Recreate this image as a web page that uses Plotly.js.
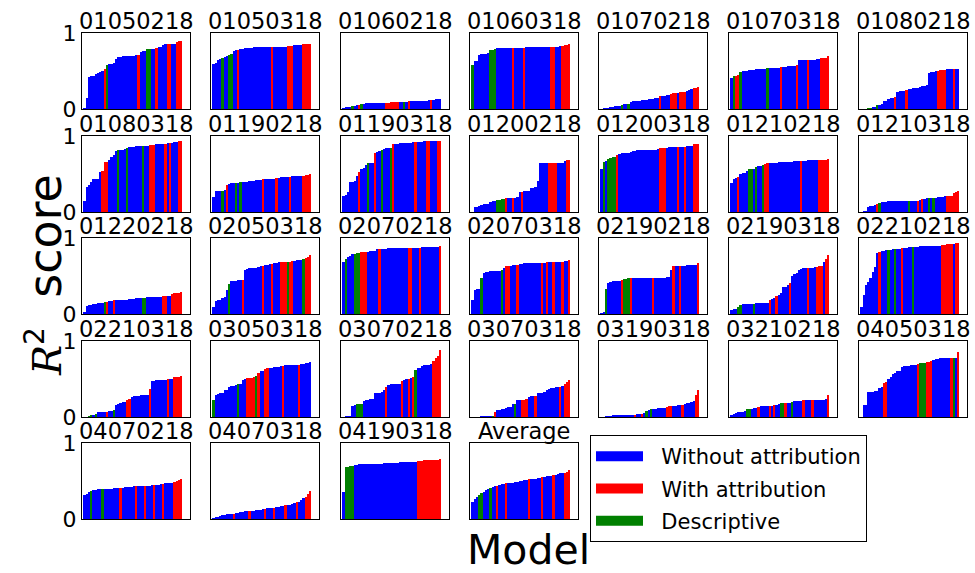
<!DOCTYPE html>
<html>
<head>
<meta charset="utf-8">
<script src="https://cdn.plot.ly/plotly-3.0.1.min.js"></script>
<style>html,body{margin:0;padding:0;background:#fff}#chart{width:975px;height:573px}</style>
</head>
<body>
<div id="chart"></div>
<script>
// ---------------- DATA ----------------
const panelNames = ["01050218","01050318","01060218","01060318","01070218","01070318","01080218",
  "01080318","01190218","01190318","01200218","01200318","01210218","01210318",
  "01220218","02050318","02070218","02070318","02190218","02190318","02210218",
  "02210318","03050318","03070218","03070318","03190318","03210218","04050318",
  "04070218","04070318","04190318","Average"];

const seriesNames = {B: "Without attribution", R: "With attribution", G: "Descriptive"};
const yTickLabels = ["0", "1"];

// R^2 per model (sorted) and category code per bar: B = without attribution, R = with attribution, G = descriptive
const v01050218 = [0.01,0.15,0.42,0.43,0.44,0.46,0.47,0.49,0.50,0.52,0.58,0.59,0.59,0.60,0.66,0.68,0.69,0.70,0.70,0.70,0.70,0.70,0.70,0.71,0.71,0.75,0.76,0.76,0.79,0.79,0.79,0.79,0.80,0.81,0.82,0.84,0.86,0.86,0.86,0.86,0.86,0.88,0.89,0.90];
const c01050218 = "BBBBBBBBB"+"R"+"G"+"BBBBBBBBBBBBB"+"R"+"BBB"+"GG"+"BB"+"R"+"BBBB"+"RR"+"BB"+"RRR";
const v01050318 = [0.59,0.61,0.65,0.66,0.67,0.68,0.70,0.71,0.72,0.76,0.77,0.78,0.79,0.79,0.80,0.80,0.80,0.80,0.81,0.81,0.81,0.81,0.81,0.81,0.82,0.82,0.82,0.82,0.82,0.82,0.82,0.82,0.82,0.83,0.83,0.83,0.84,0.84,0.84,0.84,0.85,0.85,0.86,0.86];
const c01050318 = "BBBB"+"G"+"BB"+"GG"+"BB"+"R"+"BBBB"+"BBBBBBBBBB"+"R"+"BBBBBB"+"RRR"+"BBBB"+"RRRR";
const v01060218 = [0.01,0.02,0.02,0.03,0.04,0.04,0.05,0.05,0.06,0.07,0.075,0.075,0.075,0.075,0.08,0.08,0.08,0.08,0.08,0.085,0.085,0.09,0.09,0.09,0.09,0.09,0.09,0.095,0.095,0.10,0.10,0.10,0.105,0.105,0.11,0.11,0.11,0.11,0.115,0.12,0.125,0.13,0.13,0.13];
const c01060218 = "BBBBGBBRG"+"BBBBBBBBBB"+"RRRRRR"+"BB"+"G"+"B"+"R"+"BBBBBBBBB"+"R"+"BBBB";
const v01060318 = [0.58,0.63,0.63,0.71,0.72,0.73,0.73,0.74,0.77,0.78,0.79,0.80,0.80,0.80,0.80,0.80,0.80,0.80,0.80,0.80,0.80,0.80,0.80,0.805,0.81,0.81,0.81,0.81,0.81,0.81,0.81,0.81,0.81,0.81,0.81,0.82,0.82,0.82,0.82,0.83,0.83,0.84,0.84,0.85];
const c01060318 = "GBBBBBBBGGG"+"BBBBBBB"+"R"+"BBBB"+"R"+"BBBBBBBBBBB"+"RR"+"BBB"+"RRRR";
const v01070218 = [0.005,0.01,0.01,0.01,0.03,0.03,0.04,0.04,0.04,0.05,0.06,0.06,0.07,0.09,0.10,0.10,0.11,0.11,0.12,0.12,0.12,0.13,0.13,0.13,0.14,0.14,0.17,0.17,0.17,0.18,0.18,0.20,0.21,0.21,0.21,0.22,0.23,0.23,0.24,0.25,0.26,0.27,0.28,0.29];
const c01070218 = "BBBBBBBBBGBBG"+"BBBBBBBBBBBBB"+"R"+"BBBB"+"RRR"+"B"+"RRR"+"BBB"+"RRR";
const v01070318 = [0.41,0.44,0.44,0.45,0.49,0.50,0.50,0.50,0.51,0.51,0.51,0.52,0.52,0.52,0.52,0.53,0.54,0.54,0.54,0.54,0.54,0.54,0.55,0.55,0.55,0.56,0.56,0.57,0.57,0.58,0.64,0.65,0.65,0.65,0.65,0.65,0.65,0.65,0.66,0.66,0.67,0.67,0.67,0.70];
const c01070318 = "BGRRGB"+"BBBBBBBBBB"+"G"+"BBBBB"+"RB"+"BBBBB"+"RB"+"BBB"+"RB"+"BBBB"+"RRRR";
const v01080218 = [0.0,0.005,0.005,0.01,0.01,0.02,0.03,0.05,0.05,0.07,0.10,0.11,0.13,0.14,0.15,0.16,0.23,0.24,0.24,0.24,0.25,0.26,0.26,0.27,0.28,0.28,0.29,0.30,0.30,0.31,0.48,0.49,0.49,0.50,0.50,0.51,0.51,0.51,0.52,0.52,0.52,0.52,0.52,0.53];
const c01080218 = "BBBGGBBGBBBBBBBR"+"BBBB"+"R"+"BBBBBBBBB"+"BBBB"+"RRRR"+"BBB"+"R"+"BB";
const v01080318 = [0.15,0.33,0.35,0.40,0.43,0.44,0.44,0.53,0.54,0.66,0.66,0.68,0.72,0.75,0.80,0.81,0.82,0.82,0.83,0.84,0.85,0.86,0.86,0.87,0.87,0.87,0.87,0.87,0.87,0.88,0.88,0.88,0.89,0.89,0.90,0.90,0.90,0.91,0.91,0.91,0.92,0.92,0.93,0.94];
const c01080318 = "BBBBBBBB"+"RRR"+"BBBB"+"G"+"BBB"+"GB"+"BBBBB"+"G"+"BB"+"RRR"+"BBBB"+"R"+"B"+"R"+"BBB"+"RR";
const v01190218 = [0.20,0.27,0.28,0.28,0.28,0.29,0.35,0.37,0.38,0.38,0.38,0.38,0.39,0.39,0.40,0.40,0.41,0.41,0.41,0.42,0.42,0.42,0.43,0.43,0.44,0.44,0.44,0.44,0.45,0.45,0.46,0.46,0.46,0.46,0.46,0.47,0.47,0.47,0.47,0.48,0.48,0.49,0.49,0.50];
const c01190218 = "B"+"BBB"+"G"+"B"+"R"+"BB"+"BG"+"B"+"GB"+"BBBBBBBB"+"RB"+"BBBB"+"R"+"BBBBB"+"RB"+"BBBB"+"RRRR";
const v01190318 = [0.21,0.23,0.26,0.40,0.40,0.41,0.48,0.52,0.57,0.58,0.62,0.64,0.64,0.65,0.77,0.79,0.80,0.81,0.83,0.84,0.84,0.84,0.90,0.90,0.90,0.91,0.91,0.91,0.91,0.91,0.91,0.92,0.92,0.92,0.92,0.92,0.93,0.93,0.93,0.93,0.93,0.94,0.94,0.94];
const c01190318 = "BBBBBB"+"B"+"R"+"BBB"+"G"+"BB"+"R"+"BB"+"G"+"BBB"+"G"+"R"+"BBBBBBBBB"+"R"+"BBBB"+"RR"+"BBB"+"RR";
const v01200218 = [0.0,0.06,0.07,0.08,0.09,0.10,0.11,0.11,0.13,0.14,0.14,0.16,0.16,0.17,0.17,0.18,0.18,0.18,0.18,0.19,0.20,0.26,0.26,0.27,0.28,0.28,0.31,0.32,0.33,0.41,0.65,0.65,0.65,0.65,0.65,0.65,0.65,0.65,0.65,0.65,0.65,0.67,0.68,0.68];
const c01200218 = "BBBBBBBBBBB"+"GGGG"+"R"+"BB"+"R"+"BB"+"B"+"R"+"BBB"+"B"+"BB"+"B"+"BBBB"+"RRRR"+"BBB"+"B"+"RR";
const v01200318 = [0.57,0.66,0.67,0.70,0.71,0.72,0.73,0.75,0.76,0.77,0.77,0.78,0.78,0.79,0.80,0.80,0.81,0.81,0.81,0.81,0.82,0.82,0.82,0.82,0.82,0.83,0.84,0.84,0.84,0.84,0.85,0.85,0.85,0.85,0.85,0.86,0.86,0.86,0.87,0.87,0.87,0.89,0.90,0.90];
const c01200318 = "B"+"GB"+"GGGG"+"R"+"BBBBB"+"BBBBBBBBB"+"BBBB"+"RRR"+"BBBBB"+"RB"+"B"+"R"+"BBB"+"RRR";
const v01210218 = [0.38,0.44,0.45,0.46,0.50,0.51,0.51,0.54,0.56,0.57,0.57,0.59,0.60,0.60,0.62,0.63,0.64,0.65,0.65,0.65,0.65,0.66,0.66,0.66,0.66,0.66,0.66,0.66,0.67,0.67,0.67,0.67,0.67,0.67,0.68,0.68,0.68,0.68,0.68,0.69,0.69,0.69,0.69,0.70];
const c01210218 = "BBB"+"R"+"BBBB"+"GG"+"B"+"G"+"BB"+"G"+"RR"+"BBBBBBBBBBBBBB"+"R"+"BBBBBBB"+"RRRRR";
const v01210318 = [0.005,0.01,0.01,0.07,0.08,0.08,0.09,0.11,0.12,0.13,0.13,0.13,0.14,0.14,0.14,0.14,0.14,0.14,0.15,0.15,0.15,0.15,0.15,0.15,0.15,0.15,0.16,0.17,0.17,0.18,0.18,0.19,0.19,0.19,0.20,0.20,0.20,0.21,0.21,0.21,0.21,0.25,0.26,0.27];
const c01210318 = "BBB"+"BBBB"+"R"+"GB"+"BBBBBBBBBBB"+"G"+"BBB"+"R"+"B"+"R"+"BB"+"G"+"B"+"G"+"BBBBB"+"RRR"+"R"+"RR";
const v01220218 = [0.02,0.11,0.12,0.12,0.13,0.13,0.14,0.14,0.15,0.16,0.16,0.17,0.17,0.18,0.18,0.18,0.19,0.19,0.19,0.19,0.20,0.20,0.20,0.21,0.21,0.21,0.21,0.21,0.22,0.22,0.22,0.23,0.23,0.23,0.23,0.24,0.24,0.24,0.24,0.26,0.27,0.28,0.28,0.29];
const c01220218 = "BBBBBBBBB"+"G"+"R"+"BB"+"R"+"BBBBBBBBBBBB"+"GG"+"BBBBBBB"+"RR"+"BB"+"RRRRR";
const v02050318 = [0.09,0.17,0.18,0.19,0.21,0.22,0.32,0.40,0.44,0.44,0.44,0.45,0.45,0.45,0.58,0.59,0.60,0.60,0.61,0.61,0.62,0.63,0.63,0.64,0.65,0.66,0.66,0.67,0.67,0.68,0.68,0.69,0.69,0.69,0.69,0.70,0.70,0.71,0.71,0.71,0.72,0.74,0.75,0.78];
const c02050318 = "B"+"BBB"+"BB"+"B"+"G"+"BBBB"+"BR"+"BBBBBB"+"BB"+"RB"+"BB"+"R"+"BBB"+"RRR"+"G"+"RR"+"BBBB"+"G"+"R"+"R"+"R";
const v02070218 = [0.68,0.72,0.75,0.76,0.79,0.79,0.80,0.80,0.81,0.81,0.81,0.82,0.83,0.83,0.83,0.86,0.86,0.86,0.86,0.86,0.87,0.87,0.87,0.87,0.87,0.87,0.87,0.87,0.87,0.87,0.87,0.87,0.87,0.87,0.87,0.88,0.88,0.88,0.88,0.88,0.88,0.88,0.88,0.89];
const c02070218 = "BGBBBGGGRRRBBBBBR"+"BBBBBBBBBBBB"+"RR"+"BBB"+"R"+"BBBBBBBB"+"R";
const v02070318 = [0.19,0.32,0.33,0.33,0.48,0.54,0.55,0.55,0.56,0.56,0.56,0.57,0.57,0.58,0.61,0.63,0.63,0.63,0.64,0.64,0.64,0.66,0.66,0.67,0.67,0.67,0.67,0.67,0.67,0.67,0.67,0.67,0.67,0.68,0.68,0.68,0.68,0.68,0.68,0.69,0.69,0.70,0.70,0.71];
const c02070318 = "BBBB"+"GB"+"BBBBBBB"+"G"+"B"+"RR"+"BB"+"BR"+"BBBBBBBBBB"+"R"+"B"+"R"+"BB"+"R"+"BBB"+"RB"+"B"+"R";
const v02190218 = [0.01,0.02,0.33,0.41,0.42,0.43,0.44,0.44,0.44,0.45,0.46,0.46,0.47,0.47,0.47,0.47,0.47,0.47,0.47,0.47,0.47,0.47,0.47,0.47,0.47,0.48,0.48,0.48,0.48,0.49,0.49,0.58,0.63,0.63,0.63,0.63,0.63,0.63,0.64,0.64,0.64,0.64,0.64,0.67];
const c02190218 = "BBG"+"BB"+"BBB"+"BR"+"GGG"+"R"+"BBBBBBBBB"+"R"+"BBBBB"+"BB"+"B"+"R"+"BB"+"R"+"BBBBBBB"+"R";
const v02190318 = [0.05,0.06,0.06,0.09,0.12,0.13,0.13,0.13,0.13,0.13,0.13,0.14,0.14,0.14,0.14,0.14,0.14,0.18,0.20,0.21,0.24,0.25,0.28,0.35,0.36,0.38,0.41,0.50,0.52,0.54,0.58,0.59,0.61,0.61,0.61,0.61,0.61,0.62,0.62,0.63,0.63,0.69,0.73,0.77];
const c02190318 = "BBBGG"+"BBBBB"+"G"+"BBBBBB"+"R"+"BB"+"RB"+"B"+"BB"+"B"+"R"+"B"+"B"+"B"+"BB"+"BB"+"R"+"BBB"+"RRR"+"B"+"R"+"R";
const v02210218 = [0.09,0.25,0.38,0.42,0.48,0.55,0.62,0.80,0.82,0.83,0.83,0.84,0.84,0.84,0.85,0.85,0.85,0.86,0.87,0.87,0.87,0.88,0.88,0.88,0.88,0.88,0.89,0.89,0.89,0.89,0.89,0.90,0.90,0.90,0.90,0.90,0.91,0.91,0.92,0.92,0.92,0.92,0.93,0.94];
const c02210218 = "BBBBBBBB"+"R"+"BBB"+"G"+"BB"+"G"+"B"+"B"+"R"+"BBBB"+"G"+"BBBBBBBBBBBB"+"RRRRR"+"B"+"RR";
const v02210318 = [0.0,0.005,0.01,0.02,0.03,0.04,0.06,0.06,0.07,0.07,0.07,0.08,0.08,0.09,0.16,0.17,0.19,0.20,0.20,0.23,0.24,0.26,0.27,0.28,0.28,0.29,0.29,0.29,0.29,0.37,0.48,0.48,0.49,0.49,0.49,0.49,0.49,0.50,0.50,0.50,0.52,0.53,0.53,0.54];
const c02210318 = "BB"+"GG"+"B"+"G"+"BBBB"+"R"+"BB"+"G"+"BB"+"BBB"+"RR"+"BB"+"BBBBBB"+"R"+"BBBBBBB"+"R"+"BB"+"RRRR";
const v03050318 = [0.23,0.29,0.30,0.31,0.32,0.35,0.35,0.40,0.41,0.41,0.42,0.43,0.44,0.49,0.50,0.51,0.51,0.51,0.52,0.54,0.58,0.60,0.61,0.63,0.64,0.65,0.65,0.66,0.66,0.66,0.67,0.67,0.68,0.68,0.68,0.69,0.69,0.69,0.69,0.70,0.70,0.71,0.71,0.72];
const c03050318 = "G"+"BBBBBB"+"BBBB"+"G"+"B"+"BB"+"RRRR"+"G"+"R"+"B"+"B"+"R"+"R"+"BBBBBB"+"R"+"BBBBBB"+"R"+"BBBBB";
const v03070218 = [0.005,0.01,0.01,0.01,0.15,0.16,0.17,0.17,0.17,0.21,0.22,0.22,0.24,0.24,0.31,0.32,0.32,0.33,0.36,0.40,0.42,0.43,0.43,0.43,0.43,0.43,0.47,0.49,0.50,0.50,0.51,0.52,0.62,0.64,0.65,0.67,0.68,0.69,0.69,0.70,0.74,0.77,0.80,0.88];
const c03070218 = "BBBBBB"+"GGG"+"BBB"+"BB"+"BBBB"+"B"+"R"+"BBBBBB"+"R"+"B"+"B"+"R"+"B"+"R"+"G"+"BB"+"BB"+"BBB"+"RRRR";
const v03070318 = [0.0,0.0,0.005,0.005,0.01,0.01,0.01,0.01,0.01,0.01,0.07,0.09,0.09,0.10,0.11,0.12,0.13,0.13,0.17,0.17,0.22,0.23,0.23,0.23,0.24,0.26,0.27,0.27,0.28,0.31,0.32,0.32,0.33,0.36,0.37,0.38,0.38,0.39,0.39,0.39,0.41,0.44,0.46,0.49];
const c03070318 = "BBBBBBBBB"+"G"+"R"+"BB"+"BB"+"BBB"+"B"+"G"+"B"+"B"+"RRR"+"BBB"+"R"+"BBBB"+"BBBBBB"+"R"+"B"+"RRR";
const v03190318 = [0.005,0.005,0.01,0.01,0.015,0.02,0.02,0.02,0.02,0.025,0.025,0.03,0.03,0.03,0.03,0.03,0.035,0.04,0.04,0.05,0.08,0.09,0.10,0.11,0.11,0.12,0.12,0.12,0.12,0.13,0.14,0.15,0.15,0.15,0.16,0.16,0.16,0.17,0.18,0.19,0.20,0.21,0.29,0.35];
const c03190318 = "BBBB"+"BBBBB"+"BBBBBB"+"R"+"BB"+"R"+"B"+"G"+"B"+"G"+"BBBBBB"+"RRR"+"BBBB"+"R"+"BBB"+"BB"+"RR";
const v03210218 = [0.02,0.04,0.05,0.06,0.07,0.07,0.08,0.10,0.11,0.11,0.12,0.12,0.13,0.14,0.14,0.15,0.15,0.15,0.15,0.16,0.16,0.17,0.18,0.18,0.18,0.19,0.19,0.20,0.21,0.21,0.21,0.21,0.22,0.22,0.22,0.22,0.22,0.22,0.22,0.22,0.22,0.23,0.24,0.29];
const c03210218 = "B"+"B"+"BB"+"BBB"+"GG"+"BB"+"B"+"R"+"BBBB"+"R"+"B"+"R"+"B"+"B"+"G"+"G"+"R"+"B"+"B"+"G"+"BBBB"+"R"+"BBB"+"R"+"B"+"BBBB"+"B"+"R";
const v04050318 = [0.0,0.16,0.16,0.33,0.33,0.33,0.34,0.34,0.38,0.40,0.45,0.46,0.50,0.53,0.57,0.58,0.60,0.61,0.66,0.67,0.67,0.67,0.68,0.68,0.68,0.70,0.71,0.71,0.71,0.72,0.73,0.74,0.75,0.76,0.76,0.77,0.77,0.78,0.78,0.78,0.78,0.78,0.78,0.86];
const c04050318 = "BBB"+"BBBBB"+"B"+"B"+"RR"+"B"+"B"+"BB"+"BB"+"BBBBBBB"+"R"+"GGG"+"RRR"+"BBBB"+"BBBB"+"R"+"G"+"B"+"R";
const v04070218 = [0.31,0.33,0.35,0.37,0.38,0.38,0.39,0.39,0.40,0.40,0.40,0.40,0.40,0.41,0.41,0.41,0.41,0.41,0.42,0.42,0.42,0.42,0.43,0.43,0.43,0.43,0.44,0.44,0.44,0.44,0.45,0.45,0.45,0.45,0.46,0.46,0.47,0.47,0.48,0.48,0.49,0.50,0.51,0.52];
const c04070218 = "BBBGBBBBG"+"BBBBBBB"+"R"+"BBBBBB"+"R"+"BBB"+"R"+"BBB"+"R"+"BBB"+"R"+"BBBB"+"RRRR";
const v04070318 = [0.01,0.02,0.03,0.04,0.05,0.05,0.06,0.06,0.07,0.07,0.08,0.08,0.09,0.09,0.10,0.10,0.10,0.11,0.11,0.12,0.12,0.12,0.13,0.13,0.14,0.14,0.15,0.15,0.16,0.16,0.17,0.17,0.18,0.18,0.19,0.20,0.21,0.22,0.23,0.25,0.27,0.29,0.33,0.37];
const c04070318 = "BBBBBBBBB"+"R"+"BBBBBB"+"R"+"BBBBBB"+"R"+"BBB"+"R"+"BBBB"+"R"+"BBBB"+"R"+"BBB"+"RRR";
const v04190318 = [0.35,0.68,0.69,0.70,0.70,0.71,0.71,0.72,0.72,0.72,0.72,0.72,0.73,0.73,0.73,0.73,0.73,0.73,0.74,0.74,0.74,0.74,0.74,0.74,0.74,0.75,0.75,0.75,0.75,0.75,0.75,0.75,0.75,0.76,0.76,0.76,0.77,0.77,0.77,0.77,0.78,0.78,0.78,0.79];
const c04190318 = "B"+"GGGG"+"BBBBBBBBBBBBBBBBBBBBBBBBBBBB"+"RRRRRRRRRRR";
const vAverage = [0.22,0.26,0.29,0.32,0.34,0.36,0.38,0.40,0.41,0.42,0.43,0.44,0.45,0.46,0.46,0.47,0.47,0.48,0.48,0.49,0.49,0.50,0.50,0.51,0.51,0.52,0.52,0.53,0.53,0.54,0.54,0.55,0.55,0.56,0.57,0.57,0.58,0.58,0.59,0.60,0.60,0.61,0.62,0.65];
const cAverage = "BBBGGBBBGBB"+"R"+"BBB"+"R"+"BBBBBBBBB"+"R"+"BBBBB"+"R"+"BBBB"+"R"+"BBBB"+"RRR";

const panelValues = [v01050218,v01050318,v01060218,v01060318,v01070218,v01070318,v01080218,
  v01080318,v01190218,v01190318,v01200218,v01200318,v01210218,v01210318,
  v01220218,v02050318,v02070218,v02070318,v02190218,v02190318,v02210218,
  v02210318,v03050318,v03070218,v03070318,v03190318,v03210218,v04050318,
  v04070218,v04070318,v04190318,vAverage];
const panelCodes = [c01050218,c01050318,c01060218,c01060318,c01070218,c01070318,c01080218,
  c01080318,c01190218,c01190318,c01200218,c01200318,c01210218,c01210318,
  c01220218,c02050318,c02070218,c02070318,c02190218,c02190318,c02210218,
  c02210318,c03050318,c03070218,c03070318,c03190318,c03210218,c04050318,
  c04070218,c04070318,c04190318,cAverage];

// ---------------- LAYOUT / STYLE ----------------
const W = 975, H = 573;
const colLeft = [82, 211, 341, 470, 599, 729, 859];
const rowTop = [33, 136, 238, 341, 443];
const PW = 108, PH = 76;
const colors = {B: "#0000ff", R: "#ff0000", G: "#008000"};
const FONT = "DejaVu Sans, Arial, sans-serif";

const traces = [];
const layout = {
  width: W, height: H,
  margin: {l: 0, r: 0, t: 0, b: 0},
  paper_bgcolor: "#ffffff", plot_bgcolor: "#ffffff",
  barmode: "overlay", bargap: 0,
  font: {family: FONT, color: "#000", size: 20},
  showlegend: true,
  legend: {
    x: 590 / W, y: 1 - 435 / H, xanchor: "left", yanchor: "top",
    bgcolor: "#ffffff", bordercolor: "#000", borderwidth: 1,
    font: {family: FONT, size: 21, color: "#000"},
    itemwidth: 47, itemsizing: "trace", tracegroupgap: 2
  },
  annotations: [],
  shapes: []
};

panelNames.forEach((name, k) => {
  const r = Math.floor(k / 7), c = k % 7;
  const ax = k === 0 ? "" : String(k + 1);
  const x0 = colLeft[c], y0 = rowTop[r];
  const vals = panelValues[k], codes = panelCodes[k];
  const idx = vals.map((_, i) => i);
  ["B", "R", "G"].forEach(code => {
    traces.push({
      type: "bar",
      x: idx,
      y: vals.map((v, i) => ((codes[i] || "B") === code ? v : null)),
      width: 1,
      xaxis: "x" + ax, yaxis: "y" + ax,
      marker: {color: colors[code], line: {width: 0}},
      name: seriesNames[code],
      legendgroup: code,
      showlegend: false,
      hovertemplate: name + "<br>%{y:.2f}<extra>" + seriesNames[code] + "</extra>"
    });
  });
  layout["xaxis" + ax] = {
    domain: [x0 / W, (x0 + PW) / W],
    anchor: "y" + ax,
    range: [-1.1, vals.length + 2.9],
    showticklabels: false, ticks: "", showgrid: false, zeroline: false,
    showline: true, mirror: true, linecolor: "#000", linewidth: 1, fixedrange: true
  };
  layout["yaxis" + ax] = {
    domain: [1 - (y0 + PH) / H, 1 - y0 / H],
    anchor: "x" + ax,
    range: [0, 1],
    tickvals: [0, 1], ticktext: yTickLabels,
    showticklabels: c === 0, ticks: "",
    tickfont: {family: FONT, size: 22, color: "#000"},
    showgrid: false, zeroline: false,
    showline: true, mirror: true, linecolor: "#000", linewidth: 1, fixedrange: true
  };
  layout.annotations.push({
    text: name, xref: "paper", yref: "paper",
    x: (x0 + PW / 2) / W, y: 1 - y0 / H,
    xanchor: "center", yanchor: "bottom", yshift: -3,
    showarrow: false, font: {family: FONT, size: 22.5, color: "#000"}
  });
});

// legend keys: wide coloured swatches, one per category (no data points of their own)
["B", "R", "G"].forEach(code => {
  traces.push({
    type: "scatter", mode: "lines",
    x: [null], y: [null],
    xaxis: "x", yaxis: "y",
    line: {color: colors[code], width: 20},
    name: "\u00a0\u00a0" + seriesNames[code],
    legendgroup: code,
    showlegend: true,
    hoverinfo: "skip"
  });
});

layout.annotations.push({
  text: '<span style="font-size:40px"><span style="font-family:DejaVu Serif"><i>R</i></span><sup>2</sup></span>\u00a0\u00a0score',
  xref: "paper", yref: "paper", x: 45 / W, y: 1 - 275 / H,
  xanchor: "center", yanchor: "middle", textangle: -90,
  showarrow: false, font: {family: FONT, size: 46, color: "#000"}
});
layout.annotations.push({
  text: "Model", xref: "paper", yref: "paper", x: 528 / W, y: 0,
  xanchor: "center", yanchor: "bottom", yshift: -3,
  showarrow: false, font: {family: FONT, size: 41, color: "#000"}
});

Plotly.newPlot("chart", traces, layout, {displayModeBar: false, staticPlot: true});
</script>
</body>
</html>
